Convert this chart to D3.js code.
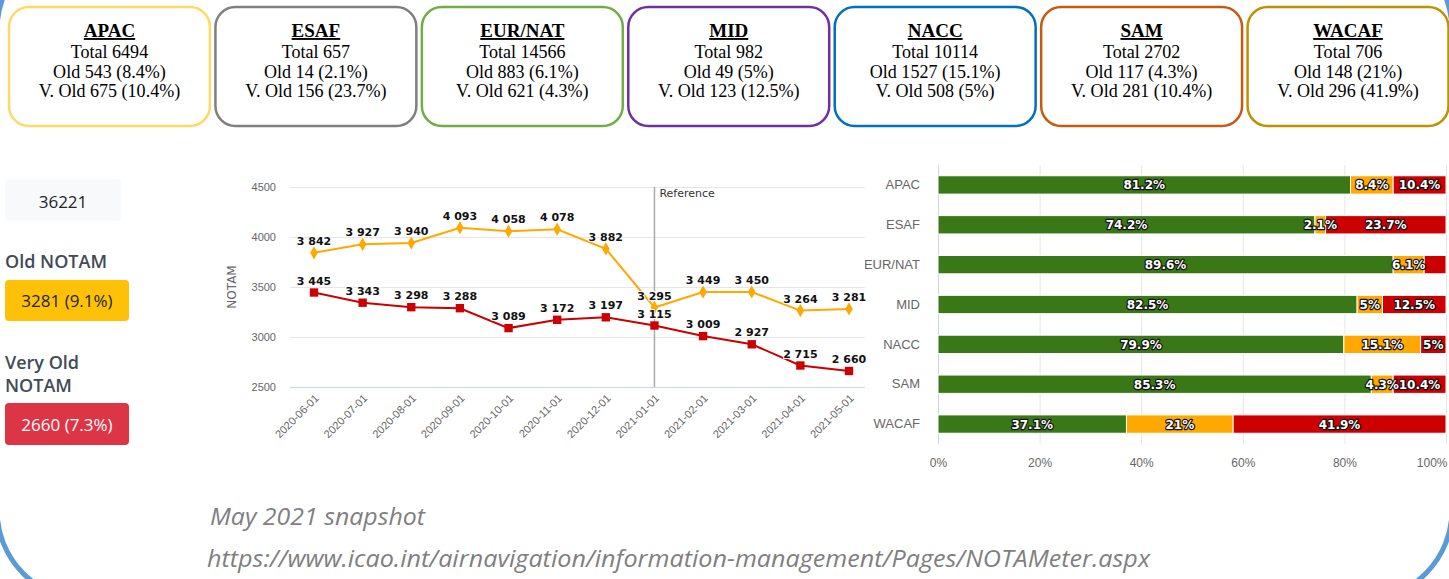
<!DOCTYPE html>
<html>
<head>
<meta charset="utf-8">
<script src="https://cdn.jsdelivr.net/npm/d3@7"></script>
<style>
  body { margin: 0; background: #fff; }
  svg { display: block; }
</style>
</head>
<body>
<script>
// region summary (top cards + stacked bars)
var regions = ["APAC", "ESAF", "EUR/NAT", "MID", "NACC", "SAM", "WACAF"];
var regionTotal = [6494, 657, 14566, 982, 10114, 2702, 706];
var regionOld = [543, 14, 883, 49, 1527, 117, 148];
var regionOldPct = [8.4, 2.1, 6.1, 5, 15.1, 4.3, 21];
var regionVeryOld = [675, 156, 621, 123, 508, 281, 296];
var regionVeryOldPct = [10.4, 23.7, 4.3, 12.5, 5, 10.4, 41.9];
var regionNormalPct = [81.2, 74.2, 89.6, 82.5, 79.9, 85.3, 37.1];
var regionBorder = ["#ffd966", "#7f7f7f", "#70ad47", "#7030a0", "#0070c0", "#c55a11", "#bf9000"];

// global counters
var totalNotam = 36221;
var oldNotam = 3281, oldNotamPct = 9.1;
var veryOldNotam = 2660, veryOldNotamPct = 7.3;

// monthly series
var months = ["2020-06-01", "2020-07-01", "2020-08-01", "2020-09-01", "2020-10-01", "2020-11-01",
    "2020-12-01", "2021-01-01", "2021-02-01", "2021-03-01", "2021-04-01", "2021-05-01"];
var oldSeries = [3842, 3927, 3940, 4093, 4058, 4078, 3882, 3295, 3449, 3450, 3264, 3281];
var veryOldSeries = [3445, 3343, 3298, 3288, 3089, 3172, 3197, 3115, 3009, 2927, 2715, 2660];
var yTicks = [2500, 3000, 3500, 4000, 4500];
var referenceMonth = "2021-01-01";
var pctTicks = [0, 20, 40, 60, 80, 100];

var width = 1449;
var height = 579;

var svg = d3.select("body").append("svg")
    .attr("width", width)
    .attr("height", height);

// slide border (only bottom corners visible)
svg.append("rect")
    .attr("x", -3)
    .attr("y", -60)
    .attr("width", width + 6)
    .attr("height", 660)
    .attr("rx", 90)
    .attr("fill", "none")
    .attr("stroke", "#5b9bd5")
    .attr("stroke-width", 5);

// ---------- region cards ----------
var cardX = d3.scaleBand()
    .domain(regions)
    .range([8, 1449.5])
    .paddingInner(0.017);

var cards = svg.selectAll(".card")
    .data(regions)
    .enter()
    .append("g")
    .attr("class", "card")
    .attr("transform", function (d) {
        return "translate(" + cardX(d) + ",6)";
    });

cards.append("rect")
    .attr("x", 1)
    .attr("y", 1)
    .attr("width", cardX.bandwidth() - 2)
    .attr("height", 119)
    .attr("rx", 20)
    .attr("fill", "#fff")
    .attr("stroke", function (d, i) { return regionBorder[i]; })
    .attr("stroke-width", 2.5);

function cardLine(g, y, txt, bold) {
    g.append("text")
        .attr("transform", "translate(" + cardX.bandwidth() / 2 + "," + y + ") scale(" + (bold ? 1 : 0.95) + ",1)")
        .attr("text-anchor", "middle")
        .attr("font-family", "Liberation Serif, Times New Roman, serif")
        .attr("font-size", bold ? "19px" : "19px")
        .attr("font-weight", bold ? "bold" : "normal")
        .attr("text-decoration", bold ? "underline" : null)
        .attr("fill", "#000")
        .text(txt);
}

cards.each(function (d, i) {
    var g = d3.select(this);
    cardLine(g, 31, d, true);
    cardLine(g, 52, "Total " + regionTotal[i]);
    cardLine(g, 71.5, "Old " + regionOld[i] + " (" + regionOldPct[i] + "%)");
    cardLine(g, 91, "V. Old " + regionVeryOld[i] + " (" + regionVeryOldPct[i] + "%)");
});

// ---------- left counters ----------
var side = svg.append("g").attr("font-family", "Open Sans, Noto Sans, sans-serif");

side.append("rect")
    .attr("x", 5).attr("y", 179).attr("width", 116).attr("height", 42)
    .attr("rx", 4).attr("fill", "#f8f9fa");
side.append("text")
    .attr("x", 63).attr("y", 208)
    .attr("text-anchor", "middle").attr("font-size", "17px").attr("fill", "#212529")
    .text(totalNotam);

side.append("text")
    .attr("x", 5).attr("y", 268)
    .attr("font-size", "18px").attr("font-weight", 600).attr("fill", "#3f4b57")
    .text("Old NOTAM");
side.append("rect")
    .attr("x", 5).attr("y", 280).attr("width", 124).attr("height", 41)
    .attr("rx", 4).attr("fill", "#ffc107");
side.append("text")
    .attr("x", 67).attr("y", 307)
    .attr("text-anchor", "middle").attr("font-size", "17px").attr("fill", "#212529")
    .text(oldNotam + " (" + oldNotamPct + "%)");

side.append("text")
    .attr("x", 5).attr("y", 369)
    .attr("font-size", "18px").attr("font-weight", 600).attr("fill", "#3f4b57")
    .text("Very Old");
side.append("text")
    .attr("x", 5).attr("y", 392)
    .attr("font-size", "18px").attr("font-weight", 600).attr("fill", "#3f4b57")
    .text("NOTAM");
side.append("rect")
    .attr("x", 5).attr("y", 403).attr("width", 124).attr("height", 42)
    .attr("rx", 4).attr("fill", "#dc3545");
side.append("text")
    .attr("x", 67).attr("y", 431)
    .attr("text-anchor", "middle").attr("font-size", "17px").attr("fill", "#fff")
    .text(veryOldNotam + " (" + veryOldNotamPct + "%)");

// ---------- line chart ----------
var lc = svg.append("g").attr("font-family", "DejaVu Sans, Verdana, sans-serif");
var lcLeft = 290, lcRight = 865;

var x = d3.scalePoint().domain(months).range([314, 849]);
var y = d3.scaleLinear().domain([2500, 4500]).range([387, 187]);

var yAxis = lc.append("g")
    .attr("transform", "translate(" + lcLeft + ",0)")
    .call(d3.axisLeft(y).tickValues(yTicks).tickSize(-(lcRight - lcLeft)).tickPadding(14).tickFormat(d3.format("d")));
yAxis.select(".domain").remove();
yAxis.selectAll("line")
    .attr("stroke", function (d) { return d === 2500 ? "#ccd6eb" : "#e6e6e6"; });
yAxis.selectAll("text").attr("fill", "#666").attr("font-size", "11px");

lc.append("text")
    .attr("transform", "translate(236,287) rotate(-90)")
    .attr("text-anchor", "middle")
    .attr("font-size", "12px")
    .attr("fill", "#666")
    .text("NOTAM");

var xAxis = lc.append("g")
    .attr("transform", "translate(0,387)")
    .call(d3.axisBottom(x).tickSize(0));
xAxis.select(".domain").remove();
xAxis.selectAll("text")
    .attr("fill", "#666")
    .attr("font-size", "11px")
    .attr("text-anchor", "end")
    .attr("y", 0)
    .attr("dy", 0)
    .attr("transform", "translate(5,12) rotate(-45)");

// reference line
lc.append("line")
    .attr("x1", x(referenceMonth)).attr("x2", x(referenceMonth))
    .attr("y1", y(4500)).attr("y2", y(2500))
    .attr("stroke", "#aaa").attr("stroke-width", 1.5);
lc.append("text")
    .attr("x", x(referenceMonth) + 5).attr("y", 197)
    .attr("font-size", "11px").attr("fill", "#333")
    .text("Reference");

var spaced = d3.formatLocale({ decimal: ".", thousands: " ", grouping: [3], currency: ["", ""] }).format(",");

function drawSeries(values, color, marker) {
    var line = d3.line()
        .x(function (d, i) { return x(months[i]); })
        .y(function (d) { return y(d); });

    lc.append("path")
        .datum(values)
        .attr("d", line)
        .attr("fill", "none")
        .attr("stroke", color)
        .attr("stroke-width", 2);

    lc.selectAll(null)
        .data(values)
        .enter()
        .append("path")
        .attr("transform", function (d, i) {
            return "translate(" + x(months[i]) + "," + y(d) + ")";
        })
        .attr("d", d3.symbol().type(marker).size(marker === d3.symbolSquare ? 70 : 50))
        .attr("fill", color);

    lc.selectAll(null)
        .data(values)
        .enter()
        .append("text")
        .attr("x", function (d, i) { return x(months[i]); })
        .attr("y", function (d) { return y(d) - 8; })
        .attr("text-anchor", "middle")
        .attr("font-size", "11px")
        .attr("font-weight", "bold")
        .attr("fill", "#111")
        .attr("stroke", "#fff")
        .attr("stroke-width", 2)
        .attr("stroke-linejoin", "round")
        .attr("paint-order", "stroke")
        .text(function (d) { return spaced(d); });
}

drawSeries(oldSeries, "#ffa800", d3.symbolDiamond);
drawSeries(veryOldSeries, "#cc0000", d3.symbolSquare);

// ---------- stacked bars ----------
svg.append("clipPath").attr("id", "barClip")
    .append("rect").attr("x", 865).attr("y", 150).attr("width", 590).attr("height", 330);

var bc = svg.append("g")
    .attr("clip-path", "url(#barClip)")
    .attr("font-family", "DejaVu Sans, Verdana, sans-serif");

var px = d3.scaleLinear().domain([0, 100]).range([938, 1446]);
var py = d3.scaleBand().domain(regions).range([165, 444]).paddingInner(0.54).paddingOuter(0.27);

var pxAxis = bc.append("g")
    .attr("transform", "translate(0,444)")
    .call(d3.axisBottom(px).tickValues(pctTicks).tickSize(-279).tickPadding(14)
        .tickFormat(function (d) { return d + "%"; }));
pxAxis.select(".domain").remove();
pxAxis.selectAll("line")
    .attr("stroke", function (d) { return d === 0 ? "#ccd6eb" : "#e6e6e6"; });
pxAxis.selectAll("text").attr("fill", "#666").attr("font-size", "12px");
pxAxis.selectAll("text").filter(function (d) { return d === 100; })
    .attr("text-anchor", "end").attr("dx", "1");

var pyAxis = bc.append("g")
    .attr("transform", "translate(938,0)")
    .call(d3.axisLeft(py).tickSize(0).tickPadding(18));
pyAxis.select(".domain").remove();
pyAxis.selectAll("text").attr("fill", "#666").attr("font-size", "13px");

var segColors = ["#3a7817", "#ffa800", "#cc0000"];
var segs = [];

regions.forEach(function (r, i) {
    var parts = [regionNormalPct[i], regionOldPct[i], regionVeryOldPct[i]];
    var start = 0;
    parts.forEach(function (v, k) {
        segs.push({ region: r, row: i, k: k, start: start, value: v });
        start += v;
    });
});

bc.selectAll(".seg")
    .data(segs)
    .enter()
    .append("rect")
    .attr("class", "seg")
    .attr("x", function (d) { return px(d.start); })
    .attr("y", function (d) { return py(d.region); })
    .attr("width", function (d) { return px(d.start + d.value) - px(d.start); })
    .attr("height", py.bandwidth())
    .attr("fill", function (d) { return segColors[d.k]; })
    .attr("stroke", "#fff")
    .attr("stroke-width", 1);

// labels, dropping the ones that would overlap the previous one in the row
var lastEnd = {};
segs.forEach(function (d) {
    var cx = px(d.start + d.value / 2);
    var label = bc.append("text")
        .attr("x", cx)
        .attr("y", py(d.region) + py.bandwidth() / 2 + 4.5)
        .attr("text-anchor", "middle")
        .attr("font-size", "12px")
        .attr("font-weight", "bold")
        .attr("fill", "#fff")
        .attr("stroke", "#111")
        .attr("stroke-width", 2.4)
        .attr("stroke-linejoin", "round")
        .attr("paint-order", "stroke")
        .text(d.value + "%");
    var w = label.node().getComputedTextLength();
    var prev = lastEnd[d.region] === undefined ? -Infinity : lastEnd[d.region];
    if (cx - w / 2 < prev - 2) {
        label.remove();
    } else {
        lastEnd[d.region] = cx + w / 2;
    }
});

// ---------- footer ----------
svg.append("text")
    .attr("x", 210).attr("y", 525)
    .attr("font-family", "Open Sans, Noto Sans, sans-serif")
    .attr("font-style", "italic")
    .attr("font-size", "23px")
    .attr("fill", "#7f7f7f")
    .attr("textLength", 215)
    .attr("lengthAdjust", "spacingAndGlyphs")
    .text("May 2021 snapshot");

svg.append("text")
    .attr("x", 207).attr("y", 567)
    .attr("font-family", "Open Sans, Noto Sans, sans-serif")
    .attr("font-style", "italic")
    .attr("font-size", "23px")
    .attr("fill", "#7f7f7f")
    .attr("textLength", 943)
    .attr("lengthAdjust", "spacingAndGlyphs")
    .text("https://www.icao.int/airnavigation/information-management/Pages/NOTAMeter.aspx");
</script>
</body>
</html>
